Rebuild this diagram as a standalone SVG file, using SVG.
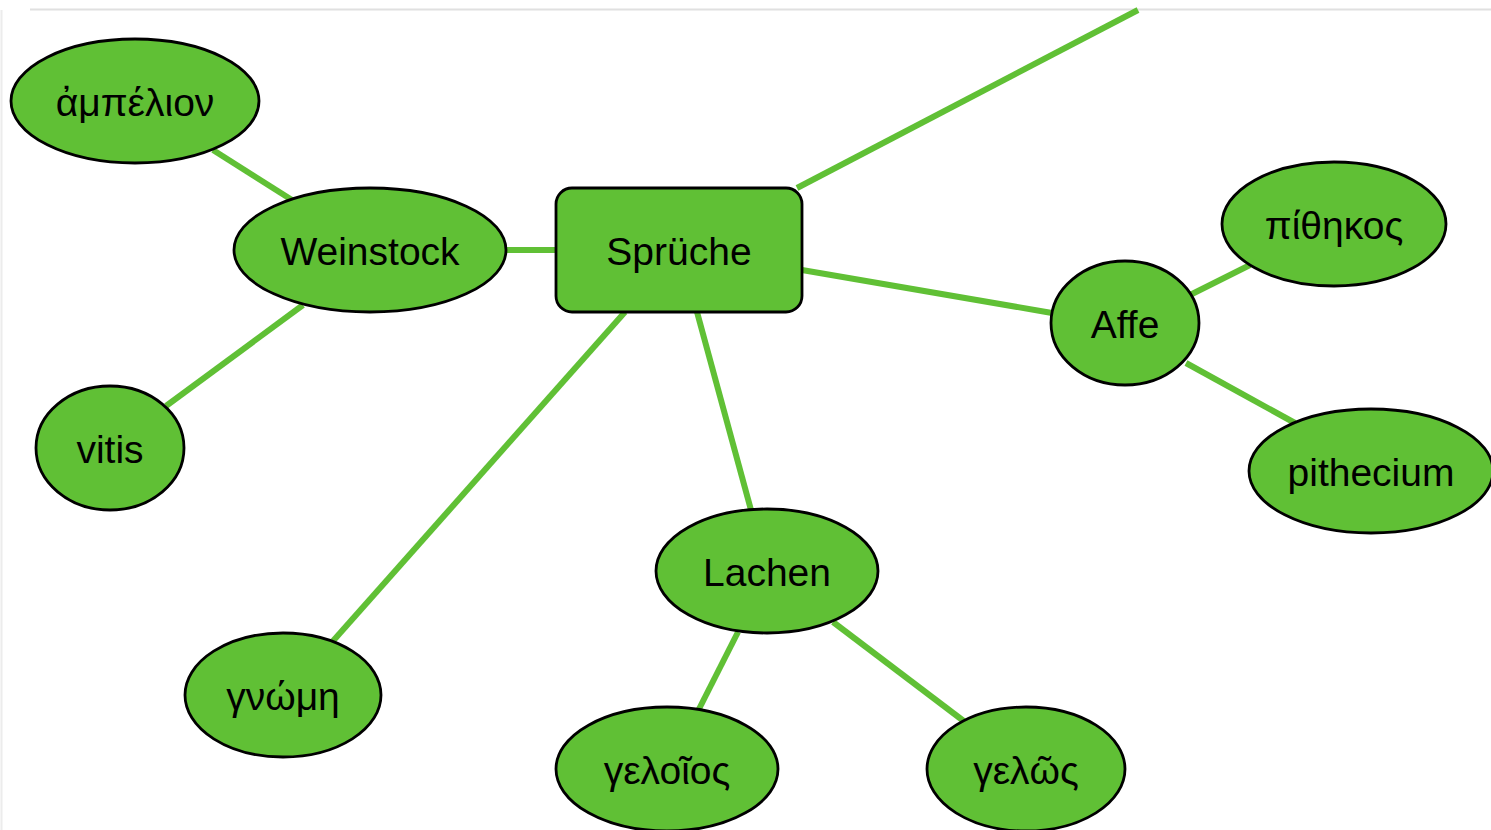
<svg xmlns="http://www.w3.org/2000/svg" width="1491" height="830" viewBox="0 0 1491 830">
<style>
.n{fill:#60c035;stroke:#000;stroke-width:2.8}
.t{font-family:"Liberation Sans",Arial,sans-serif;font-size:39px;fill:#000;text-anchor:middle}
.e line{stroke:#60c035;stroke-width:6;stroke-linecap:butt}
</style>
<rect width="1491" height="830" fill="#fff"/>
<line x1="30" y1="9.5" x2="1491" y2="9.5" stroke="#e0e0e0" stroke-width="2"/>
<line x1="1.5" y1="10" x2="1.5" y2="830" stroke="#ececec" stroke-width="2"/>
<g id="connectors" class="e">
<line x1="213" y1="150" x2="292" y2="200"/>
<line x1="506" y1="250" x2="556" y2="250"/>
<line x1="303" y1="305" x2="166" y2="406"/>
<line x1="797" y1="188" x2="1138" y2="10"/>
<line x1="802" y1="270" x2="1052" y2="313"/>
<line x1="625" y1="312" x2="333" y2="641"/>
<line x1="697" y1="312" x2="751" y2="510"/>
<line x1="738" y1="632" x2="698" y2="711"/>
<line x1="833" y1="622" x2="965" y2="722"/>
<line x1="1190" y1="295" x2="1250" y2="265"/>
<line x1="1186" y1="363" x2="1295" y2="423"/>
</g>
<g id="ampelion"><ellipse class="n" cx="135" cy="101" rx="124" ry="62"/><text class="t" x="135" y="116">ἀμπέλιον</text></g>
<g id="weinstock"><ellipse class="n" cx="370" cy="250" rx="136" ry="62"/><text class="t" x="370" y="265">Weinstock</text></g>
<g id="vitis"><ellipse class="n" cx="110" cy="448" rx="74" ry="62"/><text class="t" x="110" y="463">vitis</text></g>
<g id="sprueche"><rect class="n" x="556" y="188" width="246" height="124" rx="16"/><text class="t" x="679" y="265">Sprüche</text></g>
<g id="gnome"><ellipse class="n" cx="283" cy="695" rx="98" ry="62"/><text class="t" x="283" y="710">γνώμη</text></g>
<g id="lachen"><ellipse class="n" cx="767" cy="571" rx="111" ry="62"/><text class="t" x="767" y="586">Lachen</text></g>
<g id="geloios"><ellipse class="n" cx="667" cy="769" rx="111" ry="62"/><text class="t" x="667" y="784">γελοῖος</text></g>
<g id="gelos"><ellipse class="n" cx="1026" cy="769" rx="99" ry="62"/><text class="t" x="1026" y="784">γελῶς</text></g>
<g id="affe"><ellipse class="n" cx="1125" cy="323" rx="74" ry="62"/><text class="t" x="1125" y="338">Affe</text></g>
<g id="pithekos"><ellipse class="n" cx="1334" cy="224" rx="112" ry="62"/><text class="t" x="1334" y="239">πίθηκος</text></g>
<g id="pithecium"><ellipse class="n" cx="1371" cy="471" rx="122" ry="62"/><text class="t" x="1371" y="486">pithecium</text></g>
</svg>
